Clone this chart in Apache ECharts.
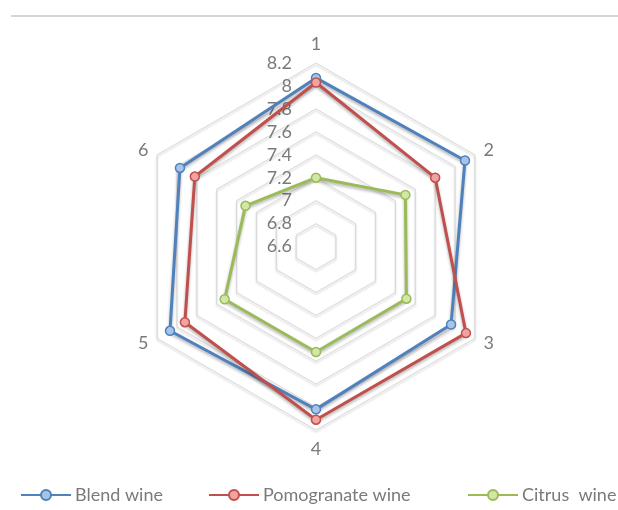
<!DOCTYPE html>
<html>
<head>
<meta charset="utf-8">
<script src="https://cdn.jsdelivr.net/npm/echarts@6/dist/echarts.min.js"></script>
<style>
  html, body { margin: 0; padding: 0; background: #fff; }
  #chart { width: 618px; height: 510px; }
</style>
</head>
<body>
<div id="chart"></div>
<script>
// Six tasting attributes, numbered 1..6 (clockwise from the top)
const axes = ['1', '2', '3', '4', '5', '6'];
const scaleMin = 6.6;
const scaleMax = 8.2;
const scaleStep = 0.2;

const seriesNames = ['Blend wine', 'Pomogranate wine', 'Citrus  wine'];
const blendWine = [8.07, 8.10, 7.96, 8.02, 8.07, 7.97];
const pomegranateWine = [8.03, 7.80, 8.11, 8.11, 7.92, 7.82];
const citrusWine = [7.20, 7.50, 7.51, 7.52, 7.52, 7.31];

const lineColors = ['#4F81BD', '#C0504D', '#9BBB59'];
const fillColors = ['#A7C4E8', '#F0A3A1', '#D2E6A6'];
const legendLefts = [15, 203, 462];

const FONT = 'Lato, "Open Sans", sans-serif';
const TEXT = '#7a7a7a';

// ECharts lays radar axes counter-clockwise, so feed them in reverse
// (keeping axis 1 at the top) to get a clockwise 1..6 order.
const order = [0, 5, 4, 3, 2, 1];
const reorder = arr => order.map(i => arr[i]);

const chart = echarts.init(document.getElementById('chart'), null, { renderer: 'canvas' });

// legend glyph: short line - ring - short line
const legendIcon = 'path://M0,6 L20,6 M30,6 L50,6 M30,6 A5,5 0 1 1 20,6 A5,5 0 1 1 30,6 Z';

const values = [blendWine, pomegranateWine, citrusWine];

chart.setOption({
  animation: false,
  backgroundColor: '#ffffff',
  graphic: [{
    type: 'line',
    shape: { x1: 11, y1: 16, x2: 618, y2: 16 },
    style: { stroke: '#d6d6d6', lineWidth: 2 },
    silent: true
  }],
  legend: seriesNames.map((n, i) => ({
    left: legendLefts[i],
    bottom: 1,
    itemWidth: 52,
    itemHeight: 10,
    textStyle: { fontFamily: FONT, fontSize: 18, color: TEXT, padding: [0, 0, 0, -2] },
    data: [{
      name: n,
      icon: legendIcon,
      itemStyle: { color: fillColors[i], borderColor: lineColors[i], borderWidth: 2 }
    }]
  })),
  radar: {
    center: [316, 246.5],
    radius: 183.5,
    startAngle: 90,
    splitNumber: Math.round((scaleMax - scaleMin) / scaleStep),
    shape: 'polygon',
    nameGap: 10,
    axisName: { fontFamily: FONT, fontSize: 18, color: TEXT },
    axisLine: { show: false },
    axisTick: { show: false },
    axisLabel: { show: false },
    splitArea: { show: false },
    splitLine: {
      lineStyle: {
        color: '#d8d8d8',
        width: 1,
        shadowColor: 'rgba(0,0,0,0.2)',
        shadowBlur: 2,
        shadowOffsetY: 2
      }
    },
    indicator: reorder(axes).map((name, i) => {
      const ind = { name: name, min: scaleMin, max: scaleMax };
      if (i === 0) {
        ind.axisLabel = {
          show: true,
          fontFamily: FONT,
          fontSize: 18,
          color: TEXT,
          margin: 24,
          padding: [5, 0, 0, 0],
          formatter: v => String(Math.round(v * 10) / 10)
        };
      }
      return ind;
    })
  },
  series: [{
    type: 'radar',
    symbol: 'circle',
    symbolSize: 9,
    data: seriesNames.map((n, i) => ({
      name: n,
      value: reorder(values[i]),
      lineStyle: {
        color: lineColors[i],
        width: 3,
        shadowColor: 'rgba(0,0,0,0.3)',
        shadowBlur: 3,
        shadowOffsetY: 2
      },
      itemStyle: {
        color: fillColors[i],
        borderColor: lineColors[i],
        borderWidth: 1.5
      }
    }))
  }]
});
</script>
</body>
</html>
